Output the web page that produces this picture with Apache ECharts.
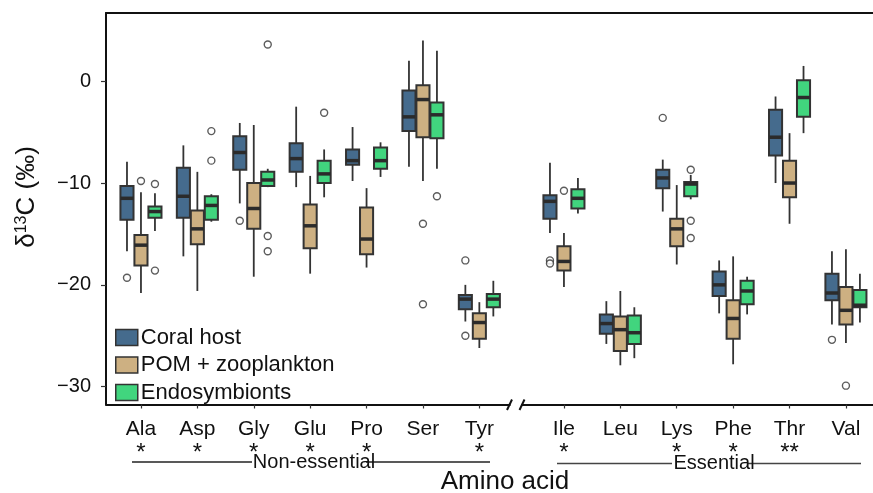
<!DOCTYPE html>
<html>
<head>
<meta charset="utf-8">
<script src="https://cdn.jsdelivr.net/npm/echarts@6/dist/echarts.min.js"></script>
<style>
  html, body { margin: 0; padding: 0; background: #fff; }
  #main { width: 873px; height: 493px; }
</style>
</head>
<body>
<div id="main"></div>
<script>
// amino acids: first 7 non-essential, last 6 essential
const aminoAcids = ['Ala', 'Asp', 'Gly', 'Glu', 'Pro', 'Ser', 'Tyr', 'Ile', 'Leu', 'Lys', 'Phe', 'Thr', 'Val'];
const signif = ['*', '*', '*', '*', '*', '', '*', '*', '', '*', '*', '**', ''];
const yTicks = [-30, -20, -10, 0];
const groups = ['Coral host', 'POM + zooplankton', 'Endosymbionts'];

// [lower whisker, q1, median, q3, upper whisker]
const coralHost = [
  [-16.7, -13.6, -11.5, -10.3, -7.9],
  [-17.2, -13.4, -11.3, -8.5, -6.3],
  [-12.0, -8.7, -7.0, -5.4, -4.1],
  [-10.4, -8.9, -7.6, -6.1, -2.5],
  [-9.8, -8.2, -7.8, -6.7, -4.5],
  [-8.4, -4.9, -3.5, -0.9, 2.0],
  [-23.6, -22.4, -21.4, -21.0, -20.0],
  [-14.9, -13.5, -11.8, -11.2, -8.0],
  [-25.8, -24.8, -23.8, -22.9, -21.6],
  [-12.8, -10.5, -9.5, -8.7, -7.7],
  [-22.8, -21.1, -20.0, -18.7, -17.6],
  [-10.0, -7.3, -5.5, -2.8, -1.5],
  [-23.9, -21.5, -20.8, -18.9, -16.7]
];
const pomZoo = [
  [-20.8, -18.1, -16.1, -15.1, -10.9],
  [-20.6, -16.0, -14.5, -12.7, -8.9],
  [-19.2, -14.5, -12.5, -10.0, -4.3],
  [-18.9, -16.4, -14.2, -12.1, -9.3],
  [-18.3, -17.0, -15.5, -12.4, -10.5],
  [-9.8, -5.5, -1.8, -0.4, 4.0],
  [-26.2, -25.3, -23.7, -22.8, -21.7],
  [-20.2, -18.6, -17.7, -16.2, -14.9],
  [-27.9, -26.5, -24.4, -23.1, -20.6],
  [-18.0, -16.2, -14.5, -13.5, -10.2],
  [-27.8, -25.3, -23.3, -21.5, -17.2],
  [-14.0, -11.4, -10.0, -7.8, -5.1],
  [-25.7, -23.9, -22.5, -20.2, -16.5]
];
const endosymbionts = [
  [-14.7, -13.4, -12.8, -12.3, -11.0],
  [-13.8, -13.6, -12.2, -11.3, -11.1],
  [-10.4, -10.3, -9.7, -8.9, -8.6],
  [-11.4, -10.0, -9.1, -7.8, -6.7],
  [-9.4, -8.6, -7.8, -6.5, -6.0],
  [-8.6, -5.6, -3.3, -2.1, 3.0],
  [-23.1, -22.2, -21.4, -20.9, -19.6],
  [-13.0, -12.5, -11.5, -10.6, -9.5],
  [-27.2, -25.8, -24.7, -23.0, -22.2],
  [-11.6, -11.3, -10.1, -9.9, -9.2],
  [-22.9, -21.9, -20.6, -19.6, -19.2],
  [-5.1, -3.5, -1.6, 0.1, 1.5],
  [-23.7, -22.2, -22.0, -20.5, -18.9]
];

// outliers: [amino acid, value]
const coralOut = [['Ala', -19.3], ['Gly', -13.7], ['Tyr', -17.6], ['Tyr', -25.0], ['Ile', -17.6], ['Ile', -17.9], ['Lys', -3.6], ['Val', -25.4]];
const pomOut = [['Ala', -9.8], ['Ser', -14.0], ['Ser', -21.9], ['Ile', -10.75], ['Val', -29.9]];
const endoOut = [['Ala', -10.1], ['Ala', -18.6], ['Asp', -4.9], ['Asp', -7.8], ['Gly', 3.6], ['Gly', -15.2], ['Gly', -16.7],
  ['Glu', -3.1], ['Ser', -11.3], ['Lys', -8.7], ['Lys', -13.7], ['Lys', -15.4]];

const colors = ['#456b8d', '#cdb082', '#41d57e'];
const edge = '#333';
const font = '"Liberation Sans", Arial, sans-serif';

// x position: essential ones shifted after the axis break
const pos = i => i + (i >= 7 ? 0.5 : 0);
const tickPos = aminoAcids.map((a, i) => pos(i));
const offsets = [-0.248, 0, 0.248];
const boxW = 0.232;

function renderBox(params, api) {
  const x = api.value(0);
  const lo = api.coord([x, api.value(1)]);
  const q1 = api.coord([x, api.value(2)]);
  const md = api.coord([x, api.value(3)]);
  const q3 = api.coord([x, api.value(4)]);
  const hi = api.coord([x, api.value(5)]);
  const w = api.size([boxW, 0])[0];
  const fill = api.visual('color');
  return {
    type: 'group',
    children: [
      { type: 'line', shape: { x1: lo[0], y1: lo[1], x2: q1[0], y2: q1[1] }, style: { stroke: edge, lineWidth: 1.8 } },
      { type: 'line', shape: { x1: q3[0], y1: q3[1], x2: hi[0], y2: hi[1] }, style: { stroke: edge, lineWidth: 1.8 } },
      { type: 'rect', shape: { x: q3[0] - w / 2, y: q3[1], width: w, height: q1[1] - q3[1] },
        style: { fill: fill, stroke: edge, lineWidth: 2 } },
      { type: 'line', shape: { x1: md[0] - w / 2, y1: md[1], x2: md[0] + w / 2, y2: md[1] },
        style: { stroke: '#2b2b2b', lineWidth: 3.5 } }
    ]
  };
}

const boxSets = [coralHost, pomZoo, endosymbionts];
const outSets = [coralOut, pomOut, endoOut];

const series = boxSets.map((set, g) => ({
  name: groups[g],
  type: 'custom',
  renderItem: renderBox,
  itemStyle: { color: colors[g] },
  encode: { x: 0, y: [1, 2, 3, 4, 5] },
  data: set.map((d, i) => [pos(i) + offsets[g]].concat(d)),
  z: 3
}));

outSets.forEach((set, g) => {
  series.push({
    name: groups[g] + ' outliers',
    type: 'scatter',
    symbol: 'circle',
    symbolSize: 7,
    itemStyle: { color: '#fff', borderColor: edge, borderWidth: 1.4 },
    data: set.map(o => [pos(aminoAcids.indexOf(o[0])) + offsets[g], o[1]]),
    z: 4
  });
});

const chart = echarts.init(document.getElementById('main'));
chart.setOption({
  animation: false,
  textStyle: { fontFamily: font },
  grid: { left: 106, right: 0, top: 13, bottom: 88.5 },
  legend: {
    data: groups,
    orient: 'vertical',
    left: 115, top: 326.5,
    padding: 0,
    icon: 'rect',
    itemWidth: 22, itemHeight: 16, itemGap: 5.5,
    itemStyle: { borderColor: edge, borderWidth: 1.5 },
    textStyle: { fontSize: 22, color: '#111', fontFamily: font, padding: [0, 0, 0, -2] }
  },
  xAxis: [{
    type: 'value',
    min: -0.62, max: 12.98,
    axisLine: { onZero: false, lineStyle: { color: '#111', width: 2 } },
    axisTick: { show: true, customValues: tickPos, length: 4, lineStyle: { color: '#333', width: 1.2 } },
    axisLabel: {
      customValues: tickPos,
      margin: 14,
      color: '#111',
      formatter: v => {
        const i = tickPos.indexOf(v);
        return '{n|' + aminoAcids[i] + '}\n{s|' + (signif[i] || ' ') + '}';
      },
      rich: {
        n: { fontSize: 21, lineHeight: 22, fontFamily: font, color: '#111' },
        s: { fontSize: 24, lineHeight: 25, fontFamily: font, color: '#111' }
      }
    },
    splitLine: { show: false }
  }, {
    type: 'value',
    position: 'top',
    min: -0.62, max: 12.98,
    axisLine: { show: true, onZero: false, lineStyle: { color: '#111', width: 2 } },
    axisTick: { show: false },
    axisLabel: { show: false },
    splitLine: { show: false }
  }],
  yAxis: {
    type: 'value',
    min: -31.75, max: 6.7,
    axisLine: { show: true, onZero: false, lineStyle: { color: '#111', width: 2 } },
    axisTick: { show: true, customValues: yTicks, length: 5, lineStyle: { color: '#333', width: 1.2 } },
    axisLabel: {
      customValues: yTicks,
      fontSize: 20,
      margin: 15,
      color: '#111',
      formatter: v => (v < 0 ? '\u2212' + (-v) : String(v))
    },
    splitLine: { show: false }
  },
  graphic: [
    // y axis title
    { type: 'text', x: 27, y: 197, rotation: Math.PI / 2,
      style: { text: '{d|δ}{sup|13}{d|C (‰)}', align: 'center', verticalAlign: 'middle',
        rich: {
          d: { fontSize: 26, fontFamily: font, fill: '#111' },
          sup: { fontSize: 16, fontFamily: font, fill: '#111', verticalAlign: 'bottom', padding: [0, 0, 10, 0] }
        } } },
    // axis break marks
    { type: 'rect', shape: { x: 510.5, y: 401, width: 10.5, height: 7 }, style: { fill: '#fff' }, z: 100 },
    { type: 'line', shape: { x1: 507, y1: 410, x2: 512, y2: 399.5 }, style: { stroke: '#111', lineWidth: 2 }, z: 101 },
    { type: 'line', shape: { x1: 519.5, y1: 410, x2: 524.5, y2: 399.5 }, style: { stroke: '#111', lineWidth: 2 }, z: 101 },
    // group brackets
    { type: 'line', shape: { x1: 132, y1: 462, x2: 252, y2: 462 }, style: { stroke: '#222', lineWidth: 1.3 } },
    { type: 'line', shape: { x1: 366, y1: 462, x2: 490, y2: 462 }, style: { stroke: '#222', lineWidth: 1.3 } },
    { type: 'text', x: 314, y: 462, style: { text: 'Non-essential', font: '20px ' + font, fill: '#111', align: 'center', verticalAlign: 'middle' } },
    { type: 'line', shape: { x1: 557, y1: 463.5, x2: 672, y2: 463.5 }, style: { stroke: '#444', lineWidth: 1.3 } },
    { type: 'line', shape: { x1: 748, y1: 463.5, x2: 861, y2: 463.5 }, style: { stroke: '#444', lineWidth: 1.3 } },
    { type: 'text', x: 714, y: 463.5, style: { text: 'Essential', font: '20px ' + font, fill: '#111', align: 'center', verticalAlign: 'middle' } },
    { type: 'text', x: 505, y: 482, style: { text: 'Amino acid', font: '26px ' + font, fill: '#111', align: 'center', verticalAlign: 'middle' } }
  ],
  series: series
});
</script>
</body>
</html>
